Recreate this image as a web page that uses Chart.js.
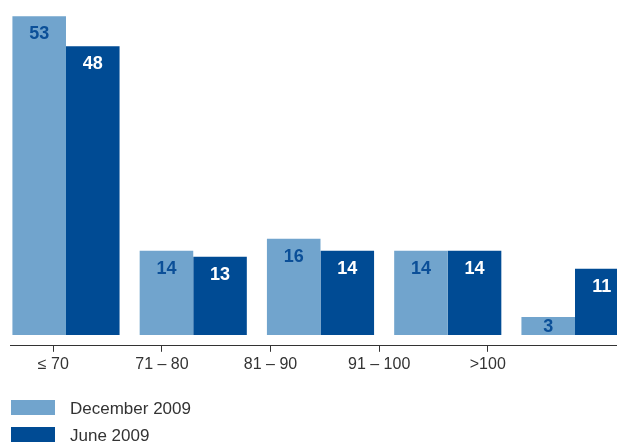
<!DOCTYPE html>
<html>
<head>
<meta charset="utf-8">
<script src="https://cdn.jsdelivr.net/npm/chart.js@4/dist/chart.umd.min.js"></script>
<style>
  html, body { margin: 0; padding: 0; background: #fff; }
  canvas { display: block; }
</style>
</head>
<body>
<canvas id="scoreChart" width="617" height="444"></canvas>
<script>
// Categories and values per period
const categories = ['\u2264 70', '71 \u2013 80', '81 \u2013 90', '91 \u2013 100', '>100'];
const december2009 = [53, 14, 16, 14, 3];
const june2009 = [48, 13, 14, 14, 11];
const seriesLabels = ['December 2009', 'June 2009'];

const lightBlue = '#71a4cd';
const darkBlue = '#004b94';
const textGrey = '#333333';

// one tick per category index
const indexTicks = axis => {
    axis.ticks = categories.map((_, i) => ({ value: i }));
};

// Value labels inside the top of each bar
const barValueLabels = {
    id: 'barValueLabels',
    afterDatasetsDraw(chart) {
        const ctx = chart.ctx;
        ctx.save();
        ctx.font = 'bold 18px "Liberation Sans", Arial, sans-serif';
        ctx.textAlign = 'center';
        ctx.textBaseline = 'middle';
        chart.data.datasets.forEach((ds, i) => {
            const meta = chart.getDatasetMeta(i);
            ctx.fillStyle = ds.valueColor;
            meta.data.forEach((bar, j) => {
                ctx.fillText(String(ds.data[j].y), bar.x, Math.min(bar.y + 18, bar.base - 8));
            });
        });
        ctx.restore();
    }
};

// Legend stacked under the axis, one row per series
const stackedLegend = {
    id: 'stackedLegend',
    afterDraw(chart) {
        const ctx = chart.ctx;
        ctx.save();
        ctx.font = '17px "Liberation Sans", Arial, sans-serif';
        ctx.textBaseline = 'middle';
        ctx.textAlign = 'left';
        chart.data.datasets.forEach((ds, i) => {
            const top = 400 + i * 27;
            ctx.fillStyle = ds.backgroundColor;
            ctx.fillRect(11, top, 44, 15);
            ctx.fillStyle = textGrey;
            ctx.fillText(ds.label, 70, top + 9);
        });
        ctx.restore();
    }
};

const toPoints = values => values.map((v, i) => ({ x: i, y: v }));

const ctx = document.getElementById('scoreChart').getContext('2d');
new Chart(ctx, {
    type: 'bar',
    data: {
        datasets: [{
            label: seriesLabels[0],
            data: toPoints(december2009),
            backgroundColor: lightBlue,
            valueColor: '#0b4f98',
            xAxisID: 'x',
            barPercentage: 1,
            categoryPercentage: 0.842
        }, {
            label: seriesLabels[1],
            data: toPoints(june2009),
            backgroundColor: darkBlue,
            valueColor: '#ffffff',
            xAxisID: 'x',
            barPercentage: 1,
            categoryPercentage: 0.842
        }]
    },
    options: {
        responsive: false,
        animation: false,
        layout: { padding: { left: 10, right: 0, top: 0, bottom: 67 } },
        plugins: {
            legend: { display: false },
            tooltip: { enabled: false }
        },
        scales: {
            x: {
                type: 'linear',
                display: false,
                offset: false,
                grid: { offset: false },
                min: -0.44,
                max: 4.33,
                afterBuildTicks: indexTicks
            },
            labelsAxis: {
                type: 'linear',
                position: 'bottom',
                offset: false,
                min: -0.399,
                max: 5.19,
                afterBuildTicks: indexTicks,
                border: { display: true, color: textGrey, width: 1 },
                grid: {
                    offset: false,
                    display: true,
                    drawOnChartArea: false,
                    drawTicks: true,
                    tickLength: 6,
                    tickWidth: 1,
                    tickColor: textGrey,
                    color: textGrey
                },
                ticks: {
                    autoSkip: false,
                    maxRotation: 0,
                    padding: 3,
                    color: textGrey,
                    font: { family: '"Liberation Sans", Arial, sans-serif', size: 16 },
                    callback: value => categories[value]
                }
            },
            y: {
                display: false,
                min: -1.8,
                max: 55.7
            }
        }
    },
    plugins: [barValueLabels, stackedLegend]
});
</script>
</body>
</html>
